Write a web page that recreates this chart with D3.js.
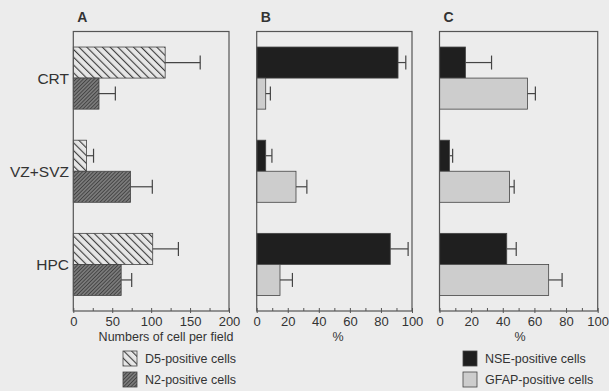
<!DOCTYPE html>
<html>
<head>
<meta charset="utf-8">
<script src="https://cdn.jsdelivr.net/npm/d3@7"></script>
<style>
  body { margin: 0; background: #ececec; }
  svg { display: block; font-family: "Liberation Sans", Arial, sans-serif; }
  .frame { fill: none; stroke: #555; stroke-width: 1.2; }
  .tick-lbl { font-size: 13px; fill: #333; }
</style>
</head>
<body>
<svg id="chart"></svg>
<script>
// data
const categories = ["CRT", "VZ+SVZ", "HPC"]
const d5 = [118, 17, 102]
const d5Err = [45, 9, 33]
const n2 = [33, 73.5, 61.5]
const n2Err = [21, 28, 13.5]
const nseB = [91, 5.8, 86]
const nseBErr = [5, 4, 11.5]
const gfapB = [5.8, 25.3, 15]
const gfapBErr = [3, 7, 8]
const nseC = [16.4, 6.3, 42.5]
const nseCErr = [16.5, 2, 6]
const gfapC = [55.6, 44.2, 69]
const gfapCErr = [5, 3, 8.5]

const width = 609, height = 391
const plotTop = 31.5, plotBottom = 311

const svg = d3.select("#chart").attr("width", width).attr("height", height)

const defs = svg.append("defs")
// light diagonal hatch ( \ )
const p1 = defs.append("pattern").attr("id", "hatchD5")
    .attr("patternUnits", "userSpaceOnUse").attr("width", 5.5).attr("height", 5.5)
    .attr("patternTransform", "rotate(-45)")
p1.append("rect").attr("width", 5.5).attr("height", 5.5).attr("fill", "#e6e6e6")
p1.append("line").attr("x1", 0).attr("y1", 0).attr("x2", 0).attr("y2", 5.5)
    .attr("stroke", "#3a3a3a").attr("stroke-width", 2.2)
// dense dark hatch ( / )
const p2 = defs.append("pattern").attr("id", "hatchN2")
    .attr("patternUnits", "userSpaceOnUse").attr("width", 2.6).attr("height", 2.6)
    .attr("patternTransform", "rotate(45)")
p2.append("rect").attr("width", 2.6).attr("height", 2.6).attr("fill", "#7a7a7a")
p2.append("line").attr("x1", 0).attr("y1", 0).attr("x2", 0).attr("y2", 2.6)
    .attr("stroke", "#2e2e2e").attr("stroke-width", 1.3)

const y = d3.scaleBand().domain(categories).range([plotTop, plotBottom])
    .paddingInner(1 / 3).paddingOuter(1 / 6)
const sub = d3.scaleBand().domain([0, 1]).range([0, y.bandwidth()])

const panels = [
  { title: "A", x0: 73.3, x1: 229, max: 200, step: 25, labelStep: 50,
    axisLabel: "Numbers of cell per field", labelX: 166,
    series: [
      { vals: d5, err: d5Err, fill: "url(#hatchD5)" },
      { vals: n2, err: n2Err, fill: "url(#hatchN2)" }
    ] },
  { title: "B", x0: 256.7, x1: 412, max: 100, step: 10, labelStep: 20,
    axisLabel: "%", labelX: 338,
    series: [
      { vals: nseB, err: nseBErr, fill: "#1f1f1f" },
      { vals: gfapB, err: gfapBErr, fill: "#cdcdcd" }
    ] },
  { title: "C", x0: 439.5, x1: 597.7, max: 100, step: 10, labelStep: 20,
    axisLabel: "%", labelX: 520,
    series: [
      { vals: nseC, err: nseCErr, fill: "#1f1f1f" },
      { vals: gfapC, err: gfapCErr, fill: "#cdcdcd" }
    ] }
]

panels.forEach(p => {
  const x = d3.scaleLinear().domain([0, p.max]).range([p.x0, p.x1])
  const g = svg.append("g")

  g.append("text").attr("x", p.x0 + 4).attr("y", 22)
      .attr("font-size", 14).attr("font-weight", "bold").attr("fill", "#333")
      .text(p.title)

  p.series.forEach((s, si) => {
    const bars = g.append("g").selectAll("g")
        .data(categories.map((c, i) => ({ c, v: s.vals[i], e: s.err[i] })))
        .enter().append("g")
    bars.append("rect")
        .attr("x", x(0))
        .attr("y", d => y(d.c) + sub(si))
        .attr("width", d => x(d.v) - x(0))
        .attr("height", sub.bandwidth())
        .attr("fill", s.fill)
        .attr("stroke", "#444").attr("stroke-width", 0.8)
    const cy = d => y(d.c) + sub(si) + sub.bandwidth() / 2
    bars.append("line")
        .attr("x1", d => x(d.v)).attr("x2", d => x(d.v + d.e))
        .attr("y1", cy).attr("y2", cy)
        .attr("stroke", "#444").attr("stroke-width", 1.2)
    bars.append("line")
        .attr("x1", d => x(d.v + d.e)).attr("x2", d => x(d.v + d.e))
        .attr("y1", d => cy(d) - 7).attr("y2", d => cy(d) + 7)
        .attr("stroke", "#444").attr("stroke-width", 1.2)
  })

  g.append("rect").attr("class", "frame")
      .attr("x", p.x0).attr("y", plotTop)
      .attr("width", p.x1 - p.x0).attr("height", plotBottom - plotTop)

  // inward ticks
  const ax = g.append("g").attr("transform", `translate(0,${plotBottom})`)
      .call(d3.axisBottom(x).tickValues(d3.range(0, p.max + 0.1, p.step))
        .tickSizeInner(-3).tickSizeOuter(0).tickFormat(""))
  ax.select(".domain").remove()
  ax.selectAll("line").attr("stroke", "#555")

  const lbl = g.append("g").attr("transform", `translate(0,${plotBottom})`)
      .call(d3.axisBottom(x).tickValues(d3.range(0, p.max + 0.1, p.labelStep))
        .tickSize(2).tickPadding(4))
  lbl.select(".domain").remove()
  lbl.selectAll("line").attr("stroke", "#555")
  lbl.selectAll("text").attr("class", "tick-lbl").attr("font-size", null)
      .attr("font-family", null)

  g.append("text").attr("x", p.labelX).attr("y", 341)
      .attr("text-anchor", "middle").attr("font-size", 12.5).attr("fill", "#333")
      .text(p.axisLabel)
})

// category labels
svg.append("g").selectAll("text").data(categories).enter().append("text")
    .attr("x", 69).attr("y", d => y(d) + y.bandwidth() / 2)
    .attr("dy", "0.35em").attr("text-anchor", "end")
    .attr("font-size", 15.5).attr("fill", "#333")
    .text(d => d)

// legends
const legends = [
  { x: 123, items: [{ label: "D5-positive cells", fill: "url(#hatchD5)" },
                    { label: "N2-positive cells", fill: "url(#hatchN2)" }] },
  { x: 463, items: [{ label: "NSE-positive cells", fill: "#1f1f1f" },
                    { label: "GFAP-positive cells", fill: "#cdcdcd" }] }
]
legends.forEach(L => {
  const items = svg.append("g").selectAll("g").data(L.items).enter().append("g")
      .attr("transform", (d, i) => `translate(${L.x},${351 + i * 21})`)
  items.append("rect").attr("width", 14).attr("height", 15)
      .attr("fill", d => d.fill).attr("stroke", "#444").attr("stroke-width", 0.8)
  items.append("text").attr("x", 22).attr("y", 11.5)
      .attr("font-size", 12.5).attr("fill", "#333").text(d => d.label)
})
</script>
</body>
</html>
